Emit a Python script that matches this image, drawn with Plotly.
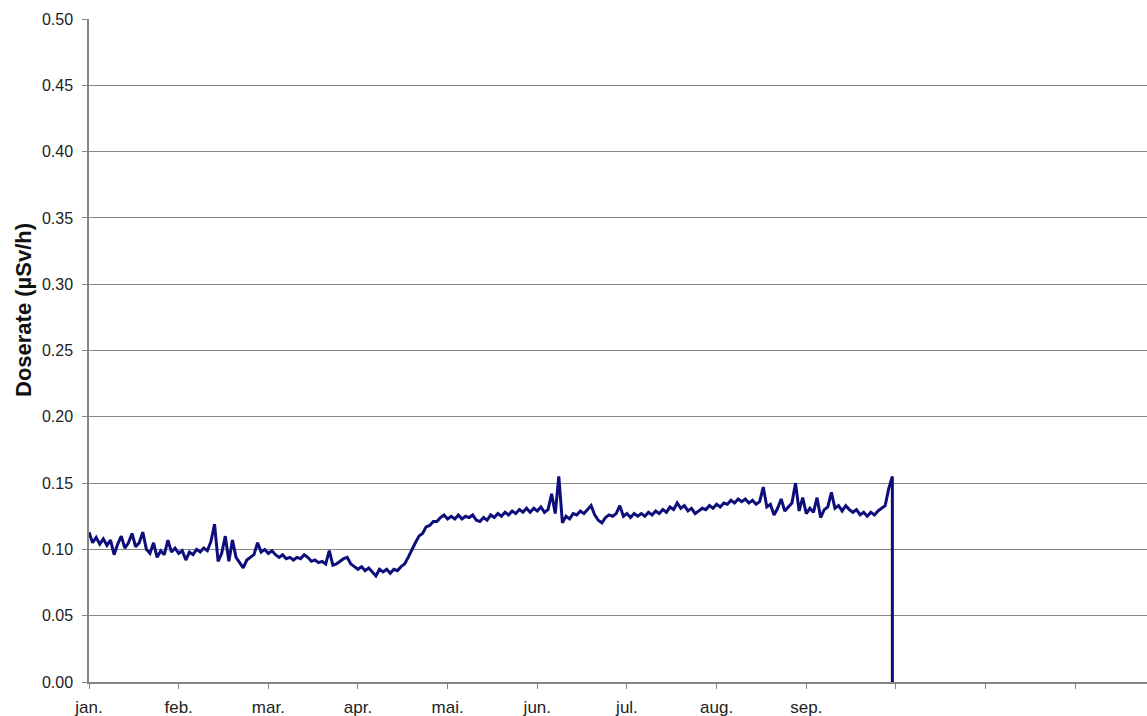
import numpy as np
import plotly.graph_objects as go

# ---------------- data ----------------
month_labels = ["jan.", "feb.", "mar.", "apr.", "mai.", "jun.", "jul.", "aug.", "sep.", "", "", "", ""]
month_ticks = list(range(13))
y_ticks = [0.00, 0.05, 0.10, 0.15, 0.20, 0.25, 0.30, 0.35, 0.40, 0.45, 0.50]

STEP = 0.04  # months between readings
doserate = [
    0.113, 0.105, 0.109, 0.104, 0.108, 0.103, 0.107, 0.096, 0.104, 0.110,
    0.101, 0.105, 0.112, 0.102, 0.105, 0.113, 0.100, 0.097, 0.105, 0.094,
    0.099, 0.096, 0.107, 0.098, 0.101, 0.097, 0.099, 0.092, 0.098, 0.096,
    0.100, 0.098, 0.101, 0.099, 0.106, 0.119, 0.091, 0.097, 0.110, 0.091,
    0.107, 0.094, 0.090, 0.086, 0.092, 0.094, 0.096, 0.105, 0.098, 0.100,
    0.097, 0.099, 0.096, 0.094, 0.096, 0.093, 0.094, 0.092, 0.094, 0.093,
    0.096, 0.094, 0.091, 0.092, 0.090, 0.091, 0.089, 0.099, 0.088, 0.089,
    0.091, 0.093, 0.094, 0.089, 0.087, 0.085, 0.087, 0.084, 0.086, 0.083,
    0.080, 0.085, 0.083, 0.085, 0.082, 0.085, 0.084, 0.087, 0.089, 0.094,
    0.100, 0.105, 0.110, 0.112, 0.117, 0.118, 0.121, 0.121, 0.124, 0.126,
    0.123, 0.125, 0.123, 0.126, 0.123, 0.125, 0.124, 0.126, 0.122, 0.121,
    0.124, 0.122, 0.126, 0.124, 0.127, 0.125, 0.128, 0.126, 0.129, 0.127,
    0.130, 0.128, 0.131, 0.128, 0.131, 0.129, 0.132, 0.128, 0.130, 0.142,
    0.127, 0.155, 0.120, 0.125, 0.123, 0.127, 0.126, 0.129, 0.127, 0.130,
    0.133, 0.126, 0.122, 0.120, 0.124, 0.126, 0.125, 0.127, 0.133, 0.125,
    0.127, 0.124, 0.127, 0.125, 0.127, 0.125, 0.128, 0.126, 0.129, 0.127,
    0.130, 0.128, 0.132, 0.130, 0.135, 0.131, 0.133, 0.129, 0.131, 0.127,
    0.129, 0.131, 0.130, 0.133, 0.131, 0.134, 0.132, 0.135, 0.134, 0.137,
    0.135, 0.138, 0.136, 0.138, 0.135, 0.137, 0.134, 0.136, 0.147, 0.132,
    0.134, 0.126, 0.131, 0.138, 0.129, 0.132, 0.135, 0.150, 0.129, 0.139,
    0.127, 0.131, 0.128, 0.139, 0.124, 0.130, 0.132, 0.143, 0.131, 0.133,
    0.129, 0.133, 0.130, 0.128, 0.130, 0.126, 0.128, 0.125, 0.128, 0.126,
    0.129, 0.131, 0.133, 0.146, 0.155,
]
drop_value = 0.0  # reading at end of record

# ---------------- figure ----------------
x = [round(i * STEP, 4) for i in range(len(doserate))]
x_all = x + [x[-1]]
y_all = doserate + [drop_value]

FONT = "Liberation Sans, Arial, sans-serif"
AXIS_GREY = "#858585"

fig = go.Figure()
fig.add_trace(go.Scatter(
    x=x_all, y=y_all, mode="lines",
    line=dict(color="#0d0d7c", width=3),
    showlegend=False, hoverinfo="skip",
))

fig.update_layout(
    width=1147, height=716,
    margin=dict(l=89, r=0, t=19, b=34),
    paper_bgcolor="white", plot_bgcolor="white",
    font=dict(family=FONT, size=16, color="#222222"),
    xaxis=dict(
        range=[0, 11.8], tickmode="array", tickvals=month_ticks, ticktext=month_labels,
        showgrid=False, zeroline=False,
        showline=True, linecolor=AXIS_GREY, linewidth=1.5,
        ticks="outside", ticklen=5, tickcolor=AXIS_GREY, tickwidth=1,
        tickfont=dict(size=17, color="#222222"),
        ticklabelstandoff=4,
    ),
    yaxis=dict(
        range=[0, 0.5], tickmode="array", tickvals=y_ticks,
        ticktext=[f"{v:.2f}" for v in y_ticks],
        showgrid=True, gridcolor=AXIS_GREY, gridwidth=1,
        zeroline=False,
        showline=True, linecolor=AXIS_GREY, linewidth=1.5,
        ticks="outside", ticklen=5, tickcolor=AXIS_GREY, tickwidth=1,
        tickfont=dict(size=16, color="#222222"),
        ticklabelstandoff=6,
    ),
    annotations=[dict(
        text="<b>Doserate (µSv/h)</b>", textangle=-90,
        xref="paper", yref="paper", x=(23 - 89) / 1058, y=(682 - 310) / 663,
        xanchor="center", yanchor="middle", showarrow=False,
        font=dict(family=FONT, size=22, color="#111111"),
    )],
)

fig.write_html(
    "out.html",
    config={"displayModeBar": False},
    post_script="document.body.style.margin='0';document.body.style.overflow='hidden';",
)
